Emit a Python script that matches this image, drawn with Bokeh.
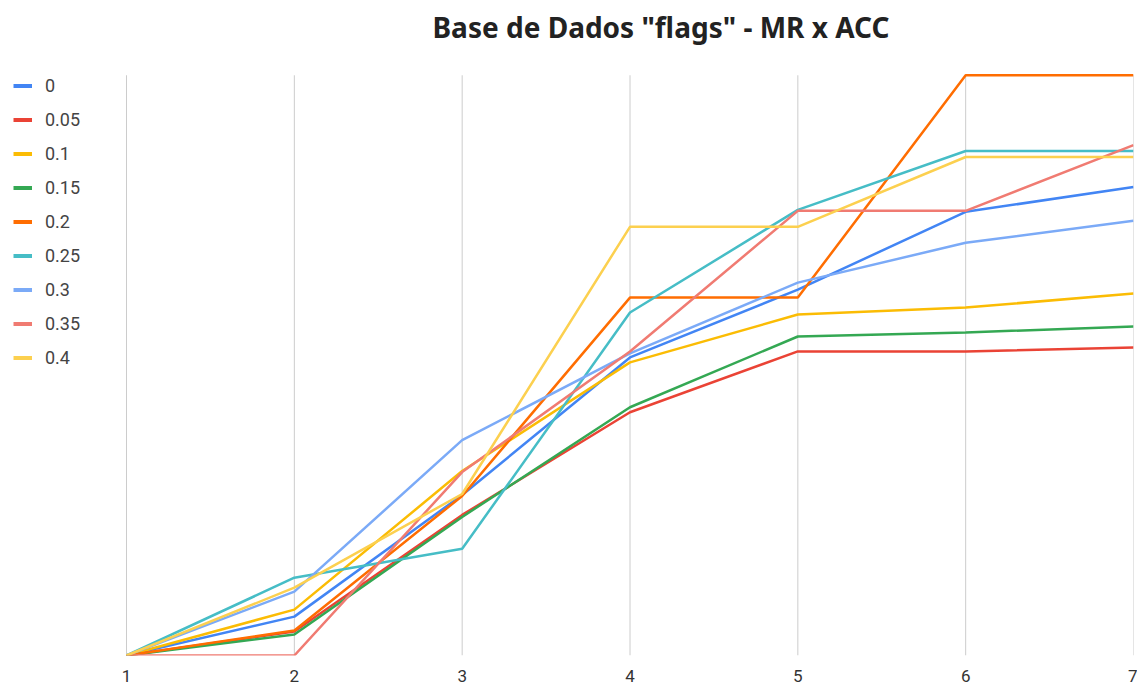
from bokeh.plotting import figure
from bokeh.models import Range1d, FixedTicker, Legend, LegendItem, Label
from bokeh.embed import file_html
from bokeh.resources import INLINE

# ---- data (relative ACC heights) ----
x_values = [1, 2, 3, 4, 5, 6, 7]
series_names = ["0", "0.05", "0.1", "0.15", "0.2", "0.25", "0.3", "0.35", "0.4"]
s_000 = [0, 39, 161, 299, 367, 445, 470]
s_005 = [0, 24, 141, 244, 305, 305, 309]
s_010 = [0, 46, 185, 294, 342, 349, 363]
s_015 = [0, 21, 139, 249, 320, 324, 330]
s_020 = [0, 25, 160, 359, 359, 582, 582]
s_025 = [0, 78, 107, 344, 447, 506, 506]
s_030 = [0, 64, 216, 303, 374, 414, 436]
s_035 = [0, 0, 184, 305, 446, 446, 512]
s_040 = [0, 68, 162, 430, 430, 500, 500]
series_values = [s_000, s_005, s_010, s_015, s_020, s_025, s_030, s_035, s_040]
colors = ["#4285F4", "#EA4335", "#FBBC04", "#34A853", "#FF6D01",
          "#46BDC6", "#7BAAF7", "#F07B72", "#FCD04F"]
y_top = 582
title_text = 'Base de Dados "flags" - MR x ACC'

# ---- layout ----
W, H = 1137, 684
plot_top, frame_bottom = 75, 657       # top of the data area, baseline
frame_right = 1133
frame_h = frame_bottom                 # frame runs from the canvas top
data_h = frame_bottom - plot_top
y_end = y_top * frame_h / data_h
frame_w = frame_right
x1_px = 126  # pixel where the first category sits
x_start = (frame_w * x_values[0] - x1_px * x_values[-1]) / (frame_w - x1_px)

p = figure(width=W, height=H, x_range=Range1d(x_start, x_values[-1]),
           y_range=Range1d(0, y_end), output_backend="svg",
           toolbar_location=None, y_axis_location=None,
           min_border_left=0, min_border_right=W - frame_right,
           min_border_top=0, min_border_bottom=H - frame_bottom)
p.outline_line_color = None
p.background_fill_color = "white"
p.border_fill_color = "white"
p.ygrid.visible = False
p.xgrid.visible = False

# vertical gridlines only over the data area
p.segment(x0=x_values, y0=[0] * len(x_values), x1=x_values, y1=[y_top] * len(x_values),
          line_color="#cccccc", line_width=1)

ax = p.xaxis[0]
ax.ticker = FixedTicker(ticks=x_values)
ax.axis_line_color = None
ax.major_tick_line_color = None
ax.minor_tick_line_color = None
ax.major_label_standoff = 8
ax.major_label_text_font = "Roboto"
ax.major_label_text_font_size = "17px"
ax.major_label_text_color = "#333333"

title = Label(x=432, y=frame_h - 28, x_units="screen", y_units="screen",
              text=title_text, text_align="left", text_baseline="middle",
              text_font="Noto Sans", text_font_style="bold",
              text_font_size="28px", text_color="#222222")
p.add_layout(title)

items = []
for name, ys, c in zip(series_names, series_values, colors):
    p.line(x_values, ys, line_color=c, line_width=2.5)
hidden_x = [x_start - 10, x_start - 9]
for name, c in zip(series_names, colors):
    dummy = p.line(hidden_x, [0, 0], line_color=c, line_width=4)
    items.append(LegendItem(label=name, renderers=[dummy]))

n = len(items)
item_h, gap = 21, 13
leg_h = n * item_h + (n - 1) * gap
legend_top = plot_top - 1 + 3
legend = Legend(items=items, location=(13, frame_h - legend_top - leg_h),
                padding=0, margin=0, spacing=gap,
                glyph_width=19, glyph_height=item_h, label_height=item_h,
                label_standoff=13, border_line_color=None,
                background_fill_alpha=0,
                label_text_font="Roboto", label_text_font_size="18px",
                label_text_color="#444444")
p.add_layout(legend)

open("out.html", "w").write(file_html(p, INLINE))
